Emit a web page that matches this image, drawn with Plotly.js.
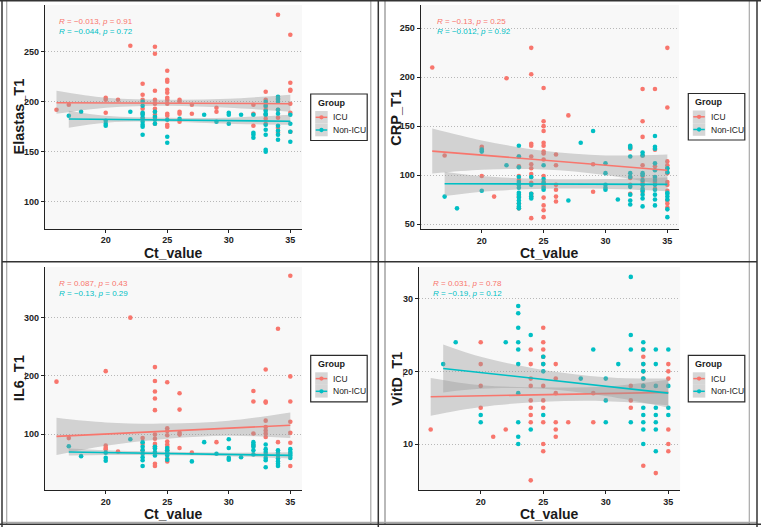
<!DOCTYPE html>
<html>
<head>
<meta charset="utf-8">
<script src="https://cdn.plot.ly/plotly-3.0.1.min.js"></script>
<style>html,body{margin:0;padding:0;background:#fff;}#chart{width:761px;height:527px;}</style>
</head>
<body>
<div id="chart"></div>
<script>
// ---------------- DATA ----------------
const groups = ['ICU', 'Non-ICU'];
const xTicks = [20, 25, 30, 35];
const xTitle = 'Ct_value';

// Panel 1: Elastas_T1
const elastasIcuX = [16,17,20,20,20,21,22,23,23,23,23,23,23,24,24,24,24,24,24,24,24,24,24,25,25,25,25,25,25,25,25,25,25,25,25,26,26,26,26,26,27,27,29,29,32,32,32,33,33,33,33,33,33,33,33,34,34,34,34,34,34,35,35,35,35,35,35,35];
const elastasIcuY = [192,197,204,202,189,202,256,218,207,202,193,188,183,255,248,211,202,198,193,190,187,184,178,231,222,220,212,209,204,202,198,188,186,177,175,202,200,190,188,180,197,188,194,190,197,188,176,210,202,198,195,192,187,183,178,287,202,192,184,174,169,267,219,212,211,198,189,170];
const elastasNonX = [17,18,20,20,20,22,23,23,23,23,23,23,23,23,23,24,24,24,24,25,25,25,26,28,29,30,30,30,31,32,32,32,32,33,33,33,33,33,33,33,33,33,33,34,34,34,34,34,34,34,34,34,35,35,35,35];
const elastasNonY = [186,190,181,178,176,190,200,196,189,187,184,180,177,175,167,190,185,182,178,182,165,159,183,187,180,189,187,178,187,187,169,167,164,200,196,191,188,187,177,172,167,152,150,205,203,200,192,188,176,171,167,162,187,178,170,160];
const elastasIcuFitX = [16, 35];
const elastasIcuFitY = [199, 198];
const elastasIcuBandX = [16, 20, 25, 30, 35];
const elastasIcuBandLo = [188, 194, 196, 194, 190];
const elastasIcuBandHi = [211, 204, 202, 203, 207];
const elastasNonFitX = [17, 35];
const elastasNonFitY = [182.7, 180.5];
const elastasNonBandX = [17, 20, 25, 30, 35];
const elastasNonBandLo = [174, 179, 180, 178, 177];
const elastasNonBandHi = [191, 186, 184, 184, 187];
const elastasTicks = [100, 150, 200, 250];
const elastasStats = ['<i>R</i> = −0.013, <i>p</i> = 0.91', '<i>R</i> = −0.044, <i>p</i> = 0.72'];

// Panel 2: CRP_T1
const crpIcuX = [16,17,20,20,20,21,22,23,23,23,23,23,23,23,23,24,24,24,24,24,24,24,24,24,24,24,24,24,25,25,25,25,25,25,25,25,25,25,25,25,25,25,25,25,26,26,26,26,26,26,27,29,29,32,32,32,32,32,32,33,33,33,33,33,33,33,33,33,34,34,34,34,34,34,35,35,35,35,35,35,35,35,35,35,35,35];
const crpIcuY = [210,120,129,127,99,78,199,119,109,99,95,90,78,71,66,230,203,132,130,119,111,107,101,98,92,81,78,56,189,155,150,145,133,130,124,122,116,99,93,89,77,69,64,57,121,110,90,85,78,73,161,111,83,129,127,98,97,90,81,188,155,139,120,110,99,93,90,83,188,126,109,98,93,86,230,169,114,110,107,102,93,90,84,74,71,67];
const crpNonX = [17,18,20,20,20,22,23,23,23,23,23,23,23,23,23,23,23,23,23,23,24,24,24,24,24,25,25,25,25,25,27,28,29,30,30,30,30,30,31,32,32,32,32,32,32,32,32,32,33,33,33,33,33,33,33,33,33,33,33,34,34,34,34,34,34,34,34,34,34,34,34,35,35,35,35,35,35,35,35];
const crpNonY = [78,66,126,124,84,110,130,119,108,98,93,90,87,82,80,77,74,71,68,66,98,90,81,78,76,110,96,92,87,85,74,133,145,112,102,90,87,85,75,130,128,119,102,98,88,80,74,70,123,120,102,100,95,90,86,84,80,76,68,140,129,127,112,105,98,95,90,85,80,75,69,107,103,82,81,78,75,65,57];
const crpIcuFitX = [16, 35];
const crpIcuFitY = [124.5, 105];
const crpIcuBandX = [16, 20, 25, 30, 35];
const crpIcuBandLo = [101.5, 105.4, 105.8, 100.1, 89];
const crpIcuBandHi = [147.5, 135.4, 124.8, 120.1, 121];
const crpNonFitX = [17, 35];
const crpNonFitY = [91.2, 90.5];
const crpNonBandX = [17, 20, 25, 30, 35];
const crpNonBandLo = [78.5, 83, 86, 86, 83.5];
const crpNonBandHi = [103.5, 99, 96, 96, 97.5];
const crpTicks = [50, 100, 150, 200, 250];
const crpStats = ['<i>R</i> = −0.13, <i>p</i> = 0.25', '<i>R</i> = −0.012, <i>p</i> = 0.92'];

// Panel 3: IL6_T1
const il6IcuX = [16,17,20,20,20,20,21,22,23,23,23,24,24,24,24,24,24,24,24,24,24,24,24,25,25,25,25,25,25,25,25,25,25,25,26,26,26,26,26,27,29,32,32,32,32,33,33,33,33,33,33,33,33,34,34,35,35,35,35,35,35,35];
const il6IcuY = [190,93,208,80,76,74,70,300,93,83,72,215,191,173,161,141,99,92,83,79,76,49,45,189,110,105,98,87,82,78,72,66,58,53,170,142,102,99,76,68,86,174,156,101,80,211,156,154,123,112,106,101,95,281,86,372,199,156,121,102,85,45];
const il6NonX = [17,18,20,20,20,22,23,23,23,23,23,23,23,24,24,24,24,25,25,25,25,25,27,28,29,30,30,30,30,31,32,32,32,32,32,33,33,33,33,33,33,33,34,34,34,34,34,34,34,35,35,35,35,35];
const il6NonY = [79,62,68,59,54,91,86,78,72,66,60,55,45,78,75,69,63,76,72,68,63,56,53,86,66,91,76,59,56,60,86,82,78,72,65,82,74,69,65,59,55,43,72,68,63,58,53,49,45,74,69,66,63,59];
const il6IcuFitX = [16, 35];
const il6IcuFitY = [96, 115];
const il6IcuBandX = [16, 20, 25, 30, 35];
const il6IcuBandLo = [64, 80, 92, 97, 93];
const il6IcuBandHi = [128, 120, 118, 123, 137];
const il6NonFitX = [17, 35];
const il6NonFitY = [69, 63.3];
const il6NonBandX = [17, 20, 25, 30, 35];
const il6NonBandLo = [63, 64, 63.5, 62, 58];
const il6NonBandHi = [75, 72, 69.5, 68, 68.5];
const il6Ticks = [100, 200, 300];
const il6Stats = ['<i>R</i> = 0.087, <i>p</i> = 0.43', '<i>R</i> = −0.13, <i>p</i> = 0.29'];

// Panel 4: VitD_T1
const vitdIcuX = [16,20,20,20,20,21,22,24,24,24,24,24,24,24,24,24,25,25,25,25,25,25,25,25,25,25,25,26,26,26,26,26,26,27,29,29,32,32,32,33,33,33,33,33,33,33,34,35,35,35,35,35,35];
const vitdIcuY = [12,24,21,18,15,11,12,23,21,19,18,16,15,14,13,5,26,24,23,22,21,18,16,15,13,10,9,21,19,17,13,12,11,13,17,13,18,16,15,23,22,21,20,19,18,7,6,21,20,19,12,10,9];
const vitdNonX = [17,18,20,20,22,23,23,23,23,23,23,23,23,23,23,24,24,25,25,25,25,28,29,30,30,30,31,32,32,32,32,33,33,33,33,33,33,33,33,33,33,33,34,34,34,34,34,34,34,34,35,35,35,35];
const vitdNonY = [21,24,14,13,24,29,28,26,24,23,21,17,13,11,10,25,12,22,21,20,14,19,23,19,16,13,21,33,25,23,13,24,23,21,20,19,18,15,14,13,12,10,23,21,18,15,14,13,12,9,23,18,15,14];
const vitdIcuFitX = [16, 35];
const vitdIcuFitY = [16.5, 17.1];
const vitdIcuBandX = [16, 20, 25, 30, 35];
const vitdIcuBandLo = [13.9, 15.1, 15.8, 15.9, 15.35];
const vitdIcuBandHi = [19.1, 18.1, 17.8, 17.9, 18.85];
const vitdNonFitX = [17, 35];
const vitdNonFitY = [20.4, 17.0];
const vitdNonBandX = [17, 20, 25, 30, 35];
const vitdNonBandLo = [17.1, 17.6, 17.6, 16.6, 15.0];
const vitdNonBandHi = [23.7, 22.0, 20.2, 19.2, 19.0];
const vitdTicks = [10, 20, 30];
const vitdStats = ['<i>R</i> = 0.031, <i>p</i> = 0.78', '<i>R</i> = −0.19, <i>p</i> = 0.12'];

// ---------------- STYLE / LAYOUT ----------------
const W = 761, H = 527;
const P = px => px / W;
const Q = py => 1 - py / H;
const COL = {'ICU': '#F8766D', 'Non-ICU': '#00BFC4'};
const BAND = 'rgba(153,153,153,0.4)';
const FONT = 'Liberation Sans, Arial, Helvetica, sans-serif';
const DARK = '#1a1a1a';

const panels = [
  {name:'Elastas_T1', xd:[44.8,302], yd:[5,229], yr:[72.7,296.7], ticks:elastasTicks, stats:elastasStats, statX:56.7, statY:[21.7,31.7], leg:[310.7,94], ytX:18.5,
   icu:{x:elastasIcuX,y:elastasIcuY,fx:elastasIcuFitX,fy:elastasIcuFitY,bx:elastasIcuBandX,lo:elastasIcuBandLo,hi:elastasIcuBandHi},
   non:{x:elastasNonX,y:elastasNonY,fx:elastasNonFitX,fy:elastasNonFitY,bx:elastasNonBandX,lo:elastasNonBandLo,hi:elastasNonBandHi}},
  {name:'CRP_T1', xd:[420.5,679.1], yd:[5,229.3], yr:[44.6,273.8], ticks:crpTicks, stats:crpStats, statX:435, statY:[21.7,31.7], leg:[688.3,93.5], ytX:396.5,
   icu:{x:crpIcuX,y:crpIcuY,fx:crpIcuFitX,fy:crpIcuFitY,bx:crpIcuBandX,lo:crpIcuBandLo,hi:crpIcuBandHi},
   non:{x:crpNonX,y:crpNonY,fx:crpNonFitX,fy:crpNonFitY,bx:crpNonBandX,lo:crpNonBandLo,hi:crpNonBandHi}},
  {name:'IL6_T1', xd:[44.8,302], yd:[267,490.3], yr:[3.3,387], ticks:il6Ticks, stats:il6Stats, statX:56.7, statY:[283.7,293.3], leg:[310.7,355.3], ytX:18.5,
   icu:{x:il6IcuX,y:il6IcuY,fx:il6IcuFitX,fy:il6IcuFitY,bx:il6IcuBandX,lo:il6IcuBandLo,hi:il6IcuBandHi},
   non:{x:il6NonX,y:il6NonY,fx:il6NonFitX,fy:il6NonFitY,bx:il6NonBandX,lo:il6NonBandLo,hi:il6NonBandHi}},
  {name:'VitD_T1', xd:[418.8,680.2], yd:[267,490.3], yr:[3.63,34.36], ticks:vitdTicks, stats:vitdStats, statX:430.7, statY:[283.7,293.7], leg:[688.3,355.3], ytX:397,
   icu:{x:vitdIcuX,y:vitdIcuY,fx:vitdIcuFitX,fy:vitdIcuFitY,bx:vitdIcuBandX,lo:vitdIcuBandLo,hi:vitdIcuBandHi},
   non:{x:vitdNonX,y:vitdNonY,fx:vitdNonFitX,fy:vitdNonFitY,bx:vitdNonBandX,lo:vitdNonBandLo,hi:vitdNonBandHi}}
];

const traces = [];
const layout = {
  width: W, height: H,
  margin: {l:0, r:0, t:0, b:0},
  paper_bgcolor: '#ffffff',
  plot_bgcolor: '#f8f8f8',
  showlegend: false,
  font: {family: FONT, color: DARK},
  shapes: [], annotations: []
};

panels.forEach((p, i) => {
  const n = i === 0 ? '' : String(i + 1);
  const xa = 'x' + n, ya = 'y' + n;
  layout['xaxis' + n] = {
    domain: [P(p.xd[0]), P(p.xd[1])], anchor: ya, range: [15.05, 35.95],
    tickvals: xTicks, ticktext: xTicks.map(String),
    showline: true, linecolor: '#222', linewidth: 1, mirror: false,
    ticks: 'outside', ticklen: 2.5, tickcolor: '#222', tickwidth: 1,
    showgrid: false, zeroline: false, fixedrange: true,
    tickfont: {family: FONT, size: 9, color: '#222', weight: 'bold'}
  };
  layout['yaxis' + n] = {
    domain: [Q(p.yd[1]), Q(p.yd[0])], anchor: xa, range: p.yr,
    tickvals: p.ticks, ticktext: p.ticks.map(String),
    showline: true, linecolor: '#222', linewidth: 1,
    ticks: 'outside', ticklen: 3, tickcolor: '#222', tickwidth: 1,
    showgrid: true, gridcolor: '#b8b8b8', griddash: '1px,2px', gridwidth: 1,
    zeroline: false, fixedrange: true,
    tickfont: {family: FONT, size: 9, color: '#222', weight: 'bold'}
  };
  // axis titles
  layout.annotations.push({xref:'paper', yref:'paper', x:P((p.xd[0]+p.xd[1])/2), y:Q(p.yd[1]+23.5), xanchor:'center', yanchor:'middle',
    showarrow:false, borderpad:0, text:xTitle, font:{family:FONT, size:14, color:DARK, weight:'bold'}});
  layout.annotations.push({xref:'paper', yref:'paper', x:P(p.ytX), y:Q((p.yd[0]+p.yd[1])/2), xanchor:'center', yanchor:'middle',
    textangle:-90, showarrow:false, borderpad:0, text:p.name, font:{family:FONT, size:14.5, color:DARK, weight:'bold'}});
  // points
  [['ICU', p.icu], ['Non-ICU', p.non]].forEach(([g, d]) => {
    traces.push({type:'scatter', mode:'markers', x:d.x, y:d.y, xaxis:xa, yaxis:ya, name:g,
      marker:{color:COL[g], size:4.6, line:{width:0}}, hoverinfo:'skip', cliponaxis:false});
  });
  // smooth bands + lines
  [['ICU', p.icu], ['Non-ICU', p.non]].forEach(([g, d]) => {
    traces.push({type:'scatter', mode:'lines', x:d.bx, y:d.lo, xaxis:xa, yaxis:ya,
      line:{width:0, shape:'spline', smoothing:1}, hoverinfo:'skip', showlegend:false});
    traces.push({type:'scatter', mode:'lines', x:d.bx, y:d.hi, xaxis:xa, yaxis:ya, fill:'tonexty', fillcolor:BAND,
      line:{width:0, shape:'spline', smoothing:1}, hoverinfo:'skip', showlegend:false});
    traces.push({type:'scatter', mode:'lines', x:d.fx, y:d.fy, xaxis:xa, yaxis:ya,
      line:{width:1.6, color:COL[g]}, hoverinfo:'skip', showlegend:false});
  });
  // stat labels
  groups.forEach((g, k) => {
    layout.annotations.push({xref:'paper', yref:'paper', x:P(p.statX), y:Q(p.statY[k]), xanchor:'left', yanchor:'middle',
      showarrow:false, text:p.stats[k], font:{family:FONT, size:8, color:COL[g]}});
  });
  // legend (drawn)
  const L = p.leg[0], T = p.leg[1];
  layout.shapes.push({type:'rect', xref:'paper', yref:'paper', x0:P(L), x1:P(L+56.5), y0:Q(T+46.5), y1:Q(T),
    line:{color:'#2a2a2a', width:1.2}, fillcolor:'#ffffff', layer:'above'});
  layout.annotations.push({xref:'paper', yref:'paper', x:P(L+5), y:Q(T+9), xanchor:'left', yanchor:'middle', showarrow:false,
    text:'Group', font:{family:FONT, size:9, color:DARK, weight:'bold'}});
  groups.forEach((g, k) => {
    const cy = T + 23.3 + k * 12.7;
    layout.shapes.push({type:'rect', xref:'paper', yref:'paper', x0:P(L+4.5), x1:P(L+17), y0:Q(cy+6.3), y1:Q(cy-6.3),
      line:{width:0}, fillcolor:'#d6d6d6', layer:'above'});
    layout.shapes.push({type:'line', xref:'paper', yref:'paper', x0:P(L+5), x1:P(L+16.5), y0:Q(cy), y1:Q(cy),
      line:{color:COL[g], width:1.5}, layer:'above'});
    layout.shapes.push({type:'circle', xref:'paper', yref:'paper', x0:P(L+8.6), x1:P(L+12.9), y0:Q(cy+2.15), y1:Q(cy-2.15),
      line:{width:0}, fillcolor:COL[g], layer:'above'});
    layout.annotations.push({xref:'paper', yref:'paper', x:P(L+20.5), y:Q(cy), xanchor:'left', yanchor:'middle', showarrow:false,
      text:g, font:{family:FONT, size:8.5, color:DARK}});
  });
});

// frames of the composite figure
function vline(x, y0, y1, color, w) {
  layout.shapes.push({type:'line', xref:'paper', yref:'paper', x0:P(x), x1:P(x), y0:Q(y0), y1:Q(y1), line:{color:color, width:w}, layer:'above'});
}
function hline(y, x0, x1, color, w) {
  layout.shapes.push({type:'line', xref:'paper', yref:'paper', x0:P(x0), x1:P(x1), y0:Q(y), y1:Q(y), line:{color:color, width:w}, layer:'above'});
}
const GRAY = '#a8a8a8', BLK = '#333333';
vline(6.7, 0, 524, GRAY, 1.2); vline(370.8, 0, 524, GRAY, 1.2);
vline(385, 0, 524, '#8a8a8a', 1.2); vline(749.3, 0, 524, GRAY, 1.2);
hline(522.3, 2, 757, GRAY, 1.2);
vline(2, 0, 527, BLK, 1.5); vline(378.3, 0, 527, BLK, 1.5); vline(757, 0, 527, BLK, 1.5);
hline(0.7, 0, 761, BLK, 1.5); hline(261.7, 2, 757, BLK, 1.5); hline(524.3, 0, 761, BLK, 1.5);

Plotly.newPlot('chart', traces, layout, {staticPlot:true, displayModeBar:false});
</script>
</body>
</html>
